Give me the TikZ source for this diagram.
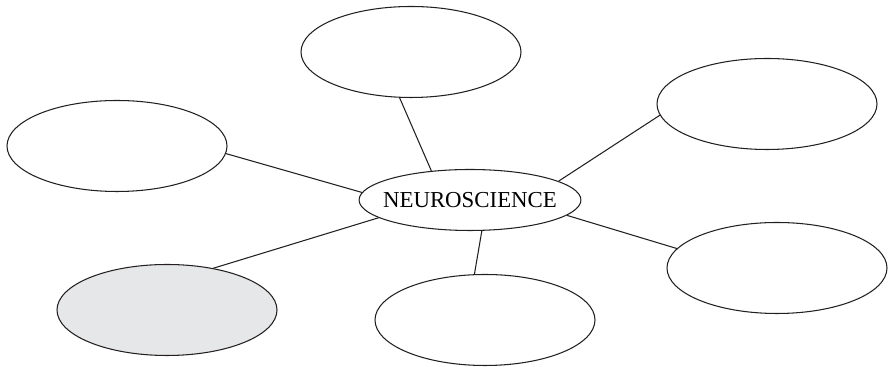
\documentclass[tikz,border=0pt]{standalone}
\usepackage{fontspec}
\setmainfont{Liberation Serif}
\usetikzlibrary{calc,shapes}
\definecolor{bubblegray}{RGB}{230,231,232}
\definecolor{inkgray}{RGB}{35,31,32}

\begin{document}
\begin{tikzpicture}[bubble/.style={draw=inkgray,line width=0.6pt,ellipse,inner sep=0pt,minimum width=4.4cm,minimum height=1.82cm},
	hub/.style={draw=inkgray,line width=0.6pt,ellipse,inner ysep=0pt,inner xsep=-0.17cm,minimum width=4.38cm,minimum height=1.22cm,font=\fontsize{13}{15}\selectfont},
	spoke/.style={draw=inkgray,line width=0.6pt}]
	\useasboundingbox (0,0) rectangle (17.8,7.34);
\node [hub] (neuro) at (9.40,3.34) {NEUROSCIENCE};
\node [bubble] (top) at (8.22,6.30) {};
\node [bubble] (left) at (2.34,4.42) {};
\node [bubble,fill=bubblegray] (shaded) at (3.34,1.14) {};
\node [bubble] (bottom) at (9.70,0.94) {};
\node [bubble] (righttop) at (15.34,5.26) {};
\node [bubble] (rightbottom) at (15.54,1.98) {};
\draw [spoke] (top.256)-- (neuro.143);
\draw [spoke] (left.-4)-- (neuro.176);
\draw [spoke] (shaded.42)-- (neuro.191);
\draw [spoke] (bottom.103)-- (neuro.-69);
\draw [spoke] (righttop.186)-- (neuro.12);
\draw [spoke] (rightbottom.169)-- (neuro.-9);
	\end{tikzpicture}
\end{document}
